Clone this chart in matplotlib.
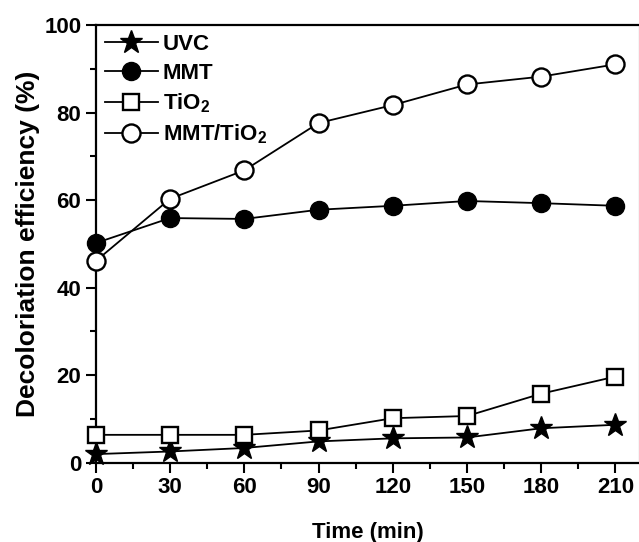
import numpy as np
import matplotlib
matplotlib.use('Agg')
import matplotlib.pyplot as plt
from matplotlib.ticker import MultipleLocator

plt.rcParams['font.family'] = ['Liberation Sans', 'DejaVu Sans']
plt.rcParams['font.weight'] = 'bold'
plt.rcParams['mathtext.fontset'] = 'custom'
plt.rcParams['mathtext.rm'] = 'Liberation Sans:bold'
plt.rcParams['mathtext.bf'] = 'Liberation Sans:bold'
plt.rcParams['mathtext.default'] = 'bf'

# decoloration data
time_min = [0, 30, 60, 90, 120, 150, 180, 210]
uvc = [2.0, 2.6, 3.4, 4.9, 5.6, 5.8, 7.9, 8.7]
mmt = [50.2, 55.9, 55.7, 57.8, 58.7, 59.8, 59.3, 58.7]
tio2 = [6.4, 6.4, 6.4, 7.4, 10.2, 10.7, 15.8, 19.7]
mmt_tio2 = [46.1, 60.3, 66.8, 77.6, 81.7, 86.4, 88.2, 91.0]

fig = plt.figure(figsize=(6.39, 5.42), dpi=100)
ax = fig.add_axes([0.150, 0.146, 0.850, 0.808])

ax.plot(time_min, uvc, '-', color='k', lw=1.3, marker='*', ms=17,
        mfc='k', mec='k', label='UVC', clip_on=False, zorder=3)
ax.plot(time_min, mmt, '-', color='k', lw=1.3, marker='o', ms=13,
        mfc='k', mec='k', label='MMT', clip_on=False, zorder=3)
ax.plot(time_min, tio2, '-', color='k', lw=1.3, marker='s', ms=11,
        mfc='white', mec='k', mew=1.7, label=r'TiO$_2$', clip_on=False, zorder=3)
ax.plot(time_min, mmt_tio2, '-', color='k', lw=1.3, marker='o', ms=13,
        mfc='white', mec='k', mew=1.7, label=r'MMT/TiO$_2$', clip_on=False, zorder=3)

ax.set_xlim(0, 219.5)
ax.set_ylim(0, 100)
ax.xaxis.set_major_locator(MultipleLocator(30))
ax.xaxis.set_minor_locator(MultipleLocator(15))
ax.yaxis.set_major_locator(MultipleLocator(20))
ax.yaxis.set_minor_locator(MultipleLocator(10))
ax.tick_params(which='both', direction='out', width=1.5, labelsize=16,
               top=False, right=False)
ax.tick_params(which='major', length=7)
ax.tick_params(which='minor', length=4)
for lab in ax.get_xticklabels() + ax.get_yticklabels():
    lab.set_fontweight('bold')

for s in ['left', 'bottom', 'top']:
    ax.spines[s].set_linewidth(1.6)
ax.spines['right'].set_linewidth(1.0)
ax.spines['right'].set_color('#cccccc')

ax.set_xlabel('Time (min)', fontsize=16, fontweight='bold', labelpad=17)
ax.set_ylabel('Decoloriation efficiency (%)', fontsize=19, fontweight='bold', labelpad=3)

leg = ax.legend(loc='upper left', frameon=False, fontsize=16, handlelength=2.4,
                handletextpad=0.2, labelspacing=0.35, borderaxespad=0.05,
                borderpad=0.35)

fig.savefig('out.png', dpi=100)
